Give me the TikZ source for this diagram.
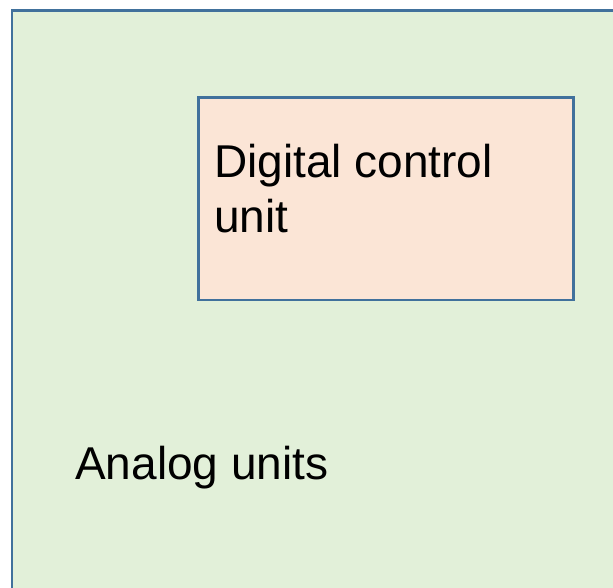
\documentclass[tikz,border=0pt]{standalone}
\usepackage{fontspec}
\setmainfont{Liberation Sans}
\definecolor{edgeblue}{HTML}{41719C}
\definecolor{analogfill}{HTML}{E2F0D9}
\definecolor{digitalfill}{HTML}{FBE5D6}
\begin{document}
\begin{tikzpicture}[x=1pt,y=-1pt,
  unitbox/.style={draw=edgeblue,line width=2.6pt},
  label/.style={inner sep=0pt,anchor=base west,font=\fontsize{46}{55}\selectfont,align=left}]
\useasboundingbox (0,0) rectangle (613,587);
\clip (0,0) rectangle (613,587);
\fill[white] (0,0) rectangle (613,587);
% analog area, running off the right and bottom edges
\draw[unitbox,fill=analogfill] (12,10.5) rectangle (640,620);
% digital control block
\draw[unitbox,fill=digitalfill] (198.5,97.5) rectangle (573.5,300);
% base anchor of a two-line node sits on its last line
\node[label] (dcu) at (214,232) {Digital control\\unit};
\node[label] (an) at (75,479) {Analog units};
\end{tikzpicture}
\end{document}
